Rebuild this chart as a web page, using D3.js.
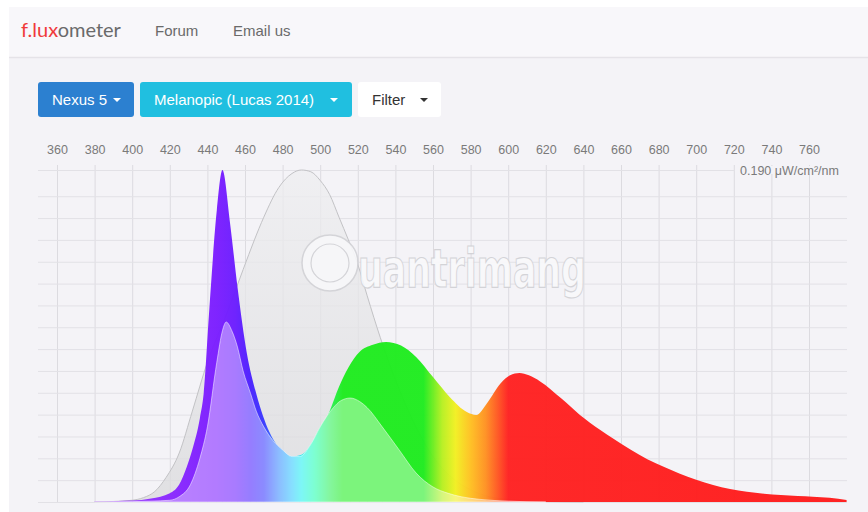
<!DOCTYPE html>
<html>
<head>
<meta charset="utf-8">
<script src="https://cdn.jsdelivr.net/npm/d3@7"></script>
<style>
  body { margin: 0; background: #fff; }
  svg { display: block; font-family: "Liberation Sans", Arial, sans-serif; }
</style>
</head>
<body>
<div id="chart"></div>
<script>
// wavelength tick labels (nm)
const xTicks = [360, 380, 400, 420, 440, 460, 480, 500, 520, 540, 560, 580, 600, 620, 640, 660, 680, 700, 720, 740, 760];
const yMax = 0.190;
const yUnit = "0.190 \u03BCW/cm\u00B2/nm";

// Nexus 5 spectrum (μW/cm²/nm)
const specWl  = [380, 390, 400, 410, 420, 425, 429, 432, 436, 438, 441, 445, 448, 452, 456, 461, 466, 473, 480, 485, 490, 496, 505, 510, 515, 521, 528, 535, 543, 551, 560, 569, 578, 583, 589, 596, 601, 606, 611, 617, 628, 638, 649, 656, 665, 674, 683, 691, 700, 709, 718, 727, 736, 745, 754, 762, 771, 780];
const specVal = [0.0003, 0.0005, 0.0008, 0.002, 0.005, 0.010, 0.020, 0.030, 0.048, 0.062, 0.110, 0.167, 0.190, 0.160, 0.123, 0.085, 0.062, 0.040, 0.029, 0.026, 0.027, 0.034, 0.052, 0.066, 0.077, 0.086, 0.090, 0.0916, 0.0895, 0.083, 0.0715, 0.060, 0.0515, 0.0498, 0.057, 0.068, 0.0725, 0.0738, 0.0725, 0.0690, 0.0595, 0.050, 0.0412, 0.0362, 0.0300, 0.0245, 0.0200, 0.0163, 0.0128, 0.0098, 0.0075, 0.0058, 0.0047, 0.0040, 0.0034, 0.0030, 0.0024, 0.0012];

// Melanopic sensitivity (Lucas 2014), scaled to the chart top
const melWl  = [380, 390, 400, 406, 412, 418, 425, 432, 440, 450, 459, 465, 470, 478, 485, 490, 495, 500, 505, 510, 515, 520, 525, 532, 540, 550, 560, 570, 580, 590, 600, 620, 640];
const melVal = [0, 0.0003, 0.001, 0.0025, 0.006, 0.014, 0.028, 0.052, 0.080, 0.107, 0.133, 0.150, 0.163, 0.180, 0.188, 0.190, 0.189, 0.184, 0.176, 0.163, 0.150, 0.136, 0.118, 0.094, 0.070, 0.045, 0.026, 0.014, 0.007, 0.003, 0.0015, 0.0003, 0];

// Melanopic-weighted spectrum
const wtdWl  = [380, 400, 410, 420, 425, 431, 436, 440, 445, 448, 450, 453, 456, 459, 463, 466, 470, 475, 480, 485, 489, 495, 500, 507, 511, 516, 521, 525, 533, 542, 551, 560, 568, 575, 585, 600, 620];
const wtdVal = [0, 0.0002, 0.0005, 0.001, 0.003, 0.010, 0.025, 0.043, 0.080, 0.098, 0.103, 0.098, 0.0887, 0.075, 0.062, 0.052, 0.043, 0.035, 0.0298, 0.026, 0.026, 0.033, 0.043, 0.054, 0.058, 0.0595, 0.0575, 0.054, 0.043, 0.0298, 0.0166, 0.0086, 0.005, 0.003, 0.0015, 0.0005, 0];

// colour of light by wavelength
const stopWl  = [380, 420, 445, 455, 463, 470, 478, 485, 490, 497, 505, 512, 555, 565, 572, 580, 588, 595, 600, 780];
const stopCol = ["#a040ff", "#8a28ff", "#7a1cff", "#6a1cff", "#4a20ff", "#3838ff", "#3a8cff", "#30c8ff", "#20f0f0", "#20ffb0", "#2cf05a", "#1eec1e", "#1eec1e", "#b8f020", "#f2f020", "#ffc020", "#ff9020", "#ff5020", "#ff2020", "#ff1a1a"];

const W = 868, H = 512;
const svg = d3.select("#chart").append("svg")
  .attr("width", W)
  .attr("height", H);

// page background
svg.append("rect").attr("x", 9).attr("y", 7).attr("width", W - 9).attr("height", H - 7).attr("fill", "#f4f3f7");
svg.append("rect").attr("x", 9).attr("y", 7).attr("width", W - 9).attr("height", 50).attr("fill", "#f8f7fa");
svg.append("line").attr("x1", 9).attr("x2", W).attr("y1", 57.5).attr("y2", 57.5)
  .attr("stroke", "#e5e3e8").attr("stroke-width", 1.5);

// nav bar
const logo = svg.append("text").attr("x", 21).attr("y", 37)
  .style("font-family", "Lato, 'Open Sans', sans-serif").style("font-size", "20px");
logo.append("tspan").attr("fill", "#f03a3a").text("f.lux");
logo.append("tspan").attr("fill", "#6a6a6a").text("ometer");
svg.append("text").attr("x", 155).attr("y", 36).attr("fill", "#6a6a6a")
  .style("font-size", "15px").text("Forum");
svg.append("text").attr("x", 233).attr("y", 36).attr("fill", "#6a6a6a")
  .style("font-size", "15px").text("Email us");

// dropdown buttons
const buttons = [
  {label: "Nexus 5", x: 38, w: 96, fill: "#2c80d0", color: "#fff", caret: 117},
  {label: "Melanopic (Lucas 2014)", x: 140, w: 212, fill: "#20bfe0", color: "#fff", caret: 334},
  {label: "Filter", x: 358, w: 83, fill: "#ffffff", color: "#333", caret: 424}
];
const btn = svg.append("g").selectAll("g").data(buttons).join("g");
btn.append("rect")
  .attr("x", d => d.x).attr("y", 82).attr("width", d => d.w).attr("height", 35)
  .attr("rx", 3).attr("fill", d => d.fill);
btn.append("text")
  .attr("x", d => d.x + 14).attr("y", 105)
  .attr("fill", d => d.color).style("font-size", "15px")
  .text(d => d.label);
btn.append("path")
  .attr("d", d => `M${d.caret - 4},98 L${d.caret + 4},98 L${d.caret},102 Z`)
  .attr("fill", d => d.color);

// scales
const x = d3.scaleLinear().domain([360, 780]).range([57, 846.6]);
const y = d3.scaleLinear().domain([0, yMax]).range([502, 170]);

// grid
const yGrid = d3.range(0, 0.18, 0.0125).concat([yMax]);
svg.append("g")
  .attr("transform", "translate(0,165)")
  .call(d3.axisBottom(x).tickValues(xTicks).tickSize(337).tickFormat(""))
  .call(g => g.select(".domain").remove())
  .call(g => g.selectAll("line").attr("stroke", "#dcdbe0"));
svg.append("g")
  .attr("transform", "translate(38,0)")
  .call(d3.axisLeft(y).tickValues(yGrid).tickSize(-(847 - 38)).tickFormat(""))
  .call(g => g.select(".domain").remove())
  .call(g => g.selectAll("line").attr("stroke", "#e2e1e6"));
// keep room for the unit label on the top line
svg.append("rect").attr("x", 735).attr("y", 166).attr("width", 112).attr("height", 8).attr("fill", "#f4f3f7");

// x axis labels
svg.append("g")
  .attr("transform", "translate(0,154)")
  .call(d3.axisTop(x).tickValues(xTicks).tickSize(0).tickPadding(0))
  .call(g => g.select(".domain").remove())
  .call(g => g.selectAll("text")
    .attr("fill", "#7a7a7a")
    .style("font-size", "12.5px")
    .style("font-family", "'Liberation Sans', Arial, sans-serif"));

svg.append("text")
  .attr("x", 740).attr("y", 175)
  .attr("fill", "#7a7a7a").style("font-size", "12.5px")
  .text(yUnit);

// spectrum gradient
const defs = svg.append("defs");
const grad = defs.append("linearGradient")
  .attr("id", "spectrum")
  .attr("gradientUnits", "userSpaceOnUse")
  .attr("x1", x(380)).attr("x2", x(780)).attr("y1", 0).attr("y2", 0);
grad.selectAll("stop").data(stopWl).join("stop")
  .attr("offset", d => (d - 380) / 400)
  .attr("stop-color", (d, i) => stopCol[i]);

// soft grey for the sensitivity curve
const greyGrad = defs.append("linearGradient")
  .attr("id", "grey").attr("x1", 0).attr("x2", 0).attr("y1", 0).attr("y2", 1);
greyGrad.append("stop").attr("offset", 0).attr("stop-color", "#eeeef0");
greyGrad.append("stop").attr("offset", 1).attr("stop-color", "#dadadc");

const area = d3.area()
  .x(d => x(d[0]))
  .y0(y(0))
  .y1(d => y(d[1]))
  .curve(d3.curveMonotoneX);
const line = d3.line()
  .x(d => x(d[0]))
  .y(d => y(d[1]))
  .curve(d3.curveMonotoneX);

const mel = d3.zip(melWl, melVal);
const spec = d3.zip(specWl, specVal);
const wtd = d3.zip(wtdWl, wtdVal);

// melanopic sensitivity
svg.append("path").datum(mel)
  .attr("d", area)
  .attr("fill", "url(#grey)").attr("fill-opacity", 0.75);
svg.append("path").datum(mel)
  .attr("d", line)
  .attr("fill", "none").attr("stroke", "#c2c2c5").attr("stroke-width", 1);

// device spectrum
svg.append("path").datum(spec)
  .attr("d", area)
  .attr("fill", "url(#spectrum)").attr("fill-opacity", 0.96);

// weighted spectrum, lighter tint
svg.append("path").datum(wtd)
  .attr("d", area)
  .attr("fill", "url(#spectrum)");
svg.append("path").datum(wtd)
  .attr("d", area)
  .attr("fill", "#ffffff").attr("fill-opacity", 0.42)
  .attr("stroke", "#ffffff").attr("stroke-opacity", 0.5);

// watermark
const wm = svg.append("g").attr("opacity", 0.9);
wm.append("circle").attr("cx", 330).attr("cy", 263).attr("r", 28)
  .attr("fill", "#f8f8fa").attr("stroke", "#d2d2d6").attr("stroke-width", 1.5);
wm.append("circle").attr("cx", 330).attr("cy", 263).attr("r", 19)
  .attr("fill", "none").attr("stroke", "#d2d2d6").attr("stroke-width", 1.2);
wm.append("text")
  .attr("x", 358).attr("y", 287)
  .attr("textLength", 228).attr("lengthAdjust", "spacingAndGlyphs")
  .attr("fill", "#f9f9fb").attr("stroke", "#d0d0d4").attr("stroke-width", 1.2)
  .style("font-family", "'DejaVu Sans', sans-serif").style("font-size", "54px").style("font-weight", "bold")
  .text("uantrimang");
</script>
</body>
</html>
